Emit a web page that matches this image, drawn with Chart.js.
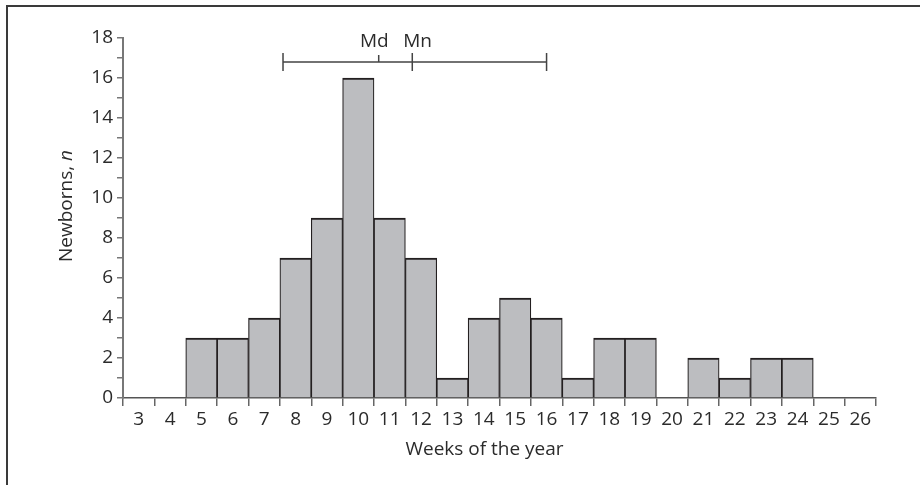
<!DOCTYPE html>
<html lang="en">
<head>
    <meta charset="UTF-8">
    <title>Newborns by week</title>
    <script src="https://cdn.jsdelivr.net/npm/chart.js"></script>
    <style>
        body { margin: 0; background: #fff; }
        .wrap { position: relative; width: 920px; height: 485px; }
        .frame { position: absolute; left: 6px; top: 5px; right: 0; bottom: 0;
                 border-left: 2px solid #3a3a3a; border-top: 2px solid #3a3a3a; }
        canvas { position: absolute; left: 0; top: 0; }
    </style>
</head>
<body>
    <div class="wrap">
        <div class="frame"></div>
        <canvas id="weeksChart" width="920" height="485"></canvas>
    </div>

    <script>
        // data
        const weeks = ['3', '4', '5', '6', '7', '8', '9', '10', '11', '12', '13', '14',
                       '15', '16', '17', '18', '19', '20', '21', '22', '23', '24', '25', '26'];
        const newborns = [null, null, 3, 3, 4, 7, 9, 16, 9, 7, 1, 4,
                          5, 4, 1, 3, 3, null, 2, 1, 2, 2, null, null];
        const yMax = 18;
        // summary bar above the histogram (in weeks)
        const rangeWeeks = [7.6, 16.0];
        const medianWeek = 10.65;
        const meanWeek = 11.72;
        const summaryLevel = 16.8;

        const FONT = '"Open Sans", "Noto Sans", sans-serif';
        const SIZE = 19;
        const TEXT = '#2b2b2b';

        const overlay = {
            id: 'overlay',
            afterDraw(chart) {
                const ctx = chart.ctx;
                const x = chart.scales.x, y = chart.scales.y;
                const area = chart.chartArea;
                const wx = w => x.getPixelForValue(w - Number(weeks[0]));
                const ly = y.getPixelForValue(summaryLevel);

                ctx.save();
                ctx.strokeStyle = '#444';
                ctx.lineWidth = 1.5;
                ctx.beginPath();
                ctx.moveTo(wx(rangeWeeks[0]), ly);
                ctx.lineTo(wx(rangeWeeks[1]), ly);
                // end caps and mean tick
                [rangeWeeks[0], rangeWeeks[1], meanWeek].forEach(w => {
                    ctx.moveTo(wx(w), ly - 9);
                    ctx.lineTo(wx(w), ly + 9);
                });
                // median tick (upward only)
                ctx.moveTo(wx(medianWeek), ly - 7);
                ctx.lineTo(wx(medianWeek), ly);
                ctx.stroke();

                ctx.fillStyle = TEXT;
                ctx.font = SIZE + 'px ' + FONT;
                ctx.textBaseline = 'alphabetic';
                ctx.textAlign = 'right';
                ctx.fillText('Md', wx(medianWeek) + 10, ly - 15);
                ctx.textAlign = 'left';
                ctx.fillText('Mn', wx(meanWeek) - 9, ly - 15);

                // x title
                ctx.textAlign = 'center';
                ctx.textBaseline = 'middle';
                ctx.fillText('Weeks of the year', (area.left + area.right) / 2 - 15, 450);

                // y title with italic n
                ctx.translate(67, (area.top + area.bottom) / 2 - 12);
                ctx.rotate(-Math.PI / 2);
                const a = 'Newborns, ';
                ctx.font = SIZE + 'px ' + FONT;
                const wa = ctx.measureText(a).width;
                ctx.font = 'italic ' + SIZE + 'px ' + FONT;
                const wb = ctx.measureText('n').width;
                const start = -(wa + wb) / 2;
                ctx.textAlign = 'left';
                ctx.font = SIZE + 'px ' + FONT;
                ctx.fillText(a, start, 0);
                ctx.font = 'italic ' + SIZE + 'px ' + FONT;
                ctx.fillText('n', start + wa, 0);
                ctx.restore();
            }
        };

        const ctx1 = document.getElementById('weeksChart').getContext('2d');
        const weeksChart = new Chart(ctx1, {
            type: 'bar',
            data: {
                labels: weeks,
                datasets: [{
                    data: newborns,
                    backgroundColor: '#bcbdc0',
                    borderColor: '#231f20',
                    borderWidth: { top: 2.2, left: 1.2, right: 1.2, bottom: 0 },
                    borderSkipped: false,
                    categoryPercentage: 1,
                    barPercentage: 1
                }]
            },
            options: {
                responsive: false,
                animation: false,
                layout: { padding: { top: 38, right: 44, bottom: 0, left: 0 } },
                plugins: {
                    legend: { display: false },
                    tooltip: { enabled: false }
                },
                scales: {
                    x: {
                        offset: true,
                        afterFit: s => { s.height = 87; },
                        grid: {
                            offset: true,
                            drawOnChartArea: false,
                            drawTicks: true,
                            tickLength: 8,
                            color: '#666',
                            lineWidth: 1.5
                        },
                        border: { display: true, color: '#555', width: 1.5 },
                        ticks: {
                            autoSkip: false,
                            maxRotation: 0,
                            padding: 2,
                            color: TEXT,
                            font: { family: FONT, size: SIZE }
                        }
                    },
                    y: {
                        min: 0,
                        max: yMax,
                        afterFit: s => { s.width = 123; },
                        grid: {
                            drawOnChartArea: false,
                            drawTicks: true,
                            tickLength: 6,
                            color: '#777',
                            lineWidth: 1.5
                        },
                        border: { display: true, color: '#777', width: 2 },
                        ticks: {
                            stepSize: 1,
                            autoSkip: false,
                            padding: 4,
                            color: TEXT,
                            font: { family: FONT, size: SIZE },
                            callback: v => (v % 2 === 0 ? v : '')
                        }
                    }
                }
            },
            plugins: [overlay]
        });
    </script>
</body>
</html>
